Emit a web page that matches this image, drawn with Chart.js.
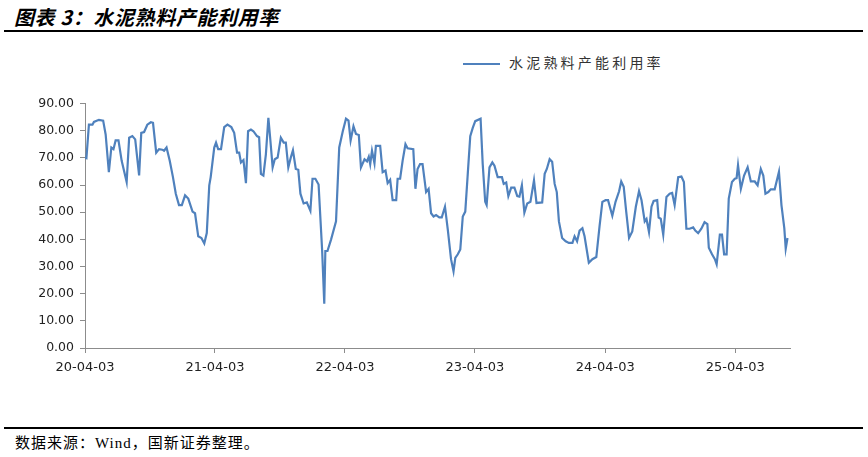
<!DOCTYPE html>
<html>
<head>
<meta charset="utf-8">
<script src="https://cdn.jsdelivr.net/npm/chart.js@4.4.1/dist/chart.umd.min.js"></script>
<style>
    html, body { margin: 0; padding: 0; background: #fff; }
    body { width: 868px; height: 457px; position: relative; overflow: hidden; }
    #title {
        position: absolute; left: 14px; top: 2px;
        font-family: "Noto Sans CJK SC", sans-serif; font-weight: bold; font-style: italic;
        font-size: 20px; color: #000; letter-spacing: 0.6px;
    }
    .rule { position: absolute; left: 4px; width: 859px; height: 2px; background: #000; }
    #legend {
        position: absolute; left: 463px; top: 52px;
        font-family: "Noto Sans CJK SC", sans-serif; font-size: 14px; color: #333;
        letter-spacing: 3.2px; white-space: nowrap;
    }
    #legend span {
        display: inline-block; width: 37px; height: 2px; background: #4f81bd;
        vertical-align: middle; margin-right: 9px;
    }
    #source {
        position: absolute; left: 15px; top: 431px;
        font-family: "Liberation Serif", "Noto Sans CJK SC", serif; font-size: 15px; color: #000;
        letter-spacing: 1px;
    }
    #wrap { position: absolute; left: 0; top: 90px; width: 800px; height: 300px; }
</style>
</head>
<body>
<div id="title">图表 3：水泥熟料产能利用率</div>
<div class="rule" style="top:30px"></div>
<div id="legend"><span></span>水泥熟料产能利用率</div>
<div id="wrap"><canvas id="chart"></canvas></div>
<div class="rule" style="top:427px"></div>
<div id="source">数据来源：Wind，国新证券整理。</div>

<script>
(function() {
    // days since 2020-04-03 at each turn of the line
    var dayOffsets = [0, 4, 11, 21, 25, 39, 51, 58, 67, 74, 80, 86, 94, 103, 117, 124, 133, 141, 152, 158,
        166, 175, 185, 191, 200, 208, 217, 222, 229, 238, 247, 255, 264, 272, 281, 290, 302, 309, 318, 327,
        335, 342, 349, 353, 363, 368, 374, 382, 391, 400, 411, 419, 427, 433, 438, 445, 452, 458, 466, 473,
        483, 489, 494, 501, 508, 515, 520, 527, 533, 541, 550, 558, 564, 571, 578, 584, 592, 599, 605, 614,
        623, 633, 639, 647, 656, 666, 672, 675, 681, 691, 705, 714, 724, 733, 740, 746, 754, 761, 769, 775,
        785, 792, 797, 801, 806, 813, 817, 829, 836, 844, 850, 857, 864, 874, 878, 885, 892, 900, 906, 922,
        928, 934, 941, 948, 958, 965, 972, 979, 986, 995, 1002, 1011, 1019, 1028, 1035, 1040, 1047, 1054, 1061, 1068,
        1075, 1082, 1089, 1096, 1111, 1117, 1124, 1128, 1136, 1144, 1150, 1159, 1171, 1176, 1183, 1189, 1197, 1206, 1214, 1220,
        1227, 1234, 1242, 1251, 1261, 1268, 1284, 1291, 1297, 1305, 1312, 1319, 1325, 1331, 1340, 1350, 1359, 1369, 1375, 1382,
        1389, 1397, 1403, 1415, 1425, 1436, 1445, 1453, 1462, 1469, 1481, 1490, 1500, 1506, 1513, 1520, 1528, 1537, 1547, 1556,
        1563, 1572, 1577, 1584, 1591, 1597, 1607, 1611, 1617, 1624, 1633, 1642, 1649, 1656, 1666, 1675, 1682, 1689, 1698, 1708,
        1714, 1722, 1731, 1740, 1748, 1752, 1761, 1769, 1774, 1783, 1789, 1795, 1802, 1808, 1817, 1825, 1830, 1834, 1842, 1851,
        1861, 1870, 1881, 1889, 1898, 1905, 1911, 1919, 1926, 1937, 1949, 1956, 1964, 1968, 1973];

    var utilization = [70.1, 69.9, 82.2, 82.2, 83.2, 84.0, 83.7, 78.6, 64.7, 73.8, 73.2, 76.4, 76.4, 68.9, 61.1, 77.4, 78.0, 76.8, 63.5, 79.2,
        79.5, 82.2, 83.1, 82.9, 71.9, 73.2, 73.0, 72.6, 73.8, 68.9, 62.9, 56.8, 52.6, 52.6, 56.2, 55.0, 50.2, 49.6, 41.1, 40.5,
        38.5, 42.3, 59.9, 62.9, 73.8, 75.6, 73.2, 73.2, 81.3, 82.2, 81.3, 79.2, 71.9, 71.9, 68.3, 69.2, 60.7, 79.8, 80.4, 79.8,
        78.0, 77.6, 64.1, 63.5, 71.3, 84.7, 77.4, 66.5, 69.5, 70.1, 77.4, 75.6, 75.6, 66.5, 70.1, 72.8, 65.9, 65.6, 56.8, 53.2,
        53.6, 50.5, 62.3, 62.3, 60.2, 36.0, 16.3, 35.7, 35.7, 39.9, 46.6, 73.8, 79.8, 84.4, 83.7, 76.4, 81.6, 78.8, 78.4, 66.5,
        69.5, 68.7, 70.4, 67.7, 72.6, 68.0, 74.4, 74.4, 64.7, 65.3, 60.7, 61.9, 54.4, 54.4, 62.3, 62.3, 68.9, 75.0, 73.5, 73.2,
        58.6, 65.9, 67.7, 67.7, 57.4, 58.6, 49.6, 48.4, 48.9, 48.1, 48.1, 52.0, 43.5, 32.7, 28.2, 33.2, 34.5, 36.3, 48.4, 50.2,
        64.1, 78.0, 81.0, 83.5, 84.4, 67.7, 53.8, 52.6, 66.5, 68.3, 67.1, 62.9, 62.9, 60.4, 60.9, 55.9, 59.0, 59.0, 55.9, 55.7,
        59.9, 49.8, 53.2, 53.8, 61.7, 53.4, 53.6, 64.1, 65.9, 69.5, 68.6, 60.4, 57.4, 46.6, 40.5, 39.3, 38.7, 38.7, 41.1, 39.3,
        43.2, 44.1, 41.1, 31.4, 32.7, 33.5, 44.7, 53.8, 54.4, 54.4, 48.7, 53.8, 57.7, 61.3, 59.3, 50.2, 40.5, 42.9, 52.0, 57.7,
        54.4, 46.6, 47.5, 42.7, 52.0, 54.1, 54.4, 48.0, 47.6, 41.7, 55.6, 56.8, 57.1, 52.6, 62.9, 63.1, 61.1, 43.9, 43.9, 44.4,
        43.2, 42.3, 43.9, 46.3, 45.6, 36.9, 34.5, 32.7, 30.8, 41.7, 41.7, 34.5, 34.5, 55.0, 61.1, 62.3, 62.5, 67.3, 58.6, 63.5,
        66.5, 61.3, 61.3, 59.9, 65.9, 63.5, 56.8, 57.4, 58.4, 58.4, 64.9, 52.6, 44.1, 36.6, 40.5];

    var yearTickDays = [0, 365, 730, 1095, 1461, 1826];
    var yearTickLabels = ['20-04-03', '21-04-03', '22-04-03', '23-04-03', '24-04-03', '25-04-03'];
    var lastDay = 1980;

    var axisColor = '#8c8c8c';

    var points = dayOffsets.map(function(d, i) {
        return { x: d, y: utilization[i] };
    });

    var ctx = document.getElementById('chart').getContext('2d');
    new Chart(ctx, {
        type: 'line',
        data: {
            datasets: [{
                label: '水泥熟料产能利用率',
                data: points,
                borderColor: '#4f81bd',
                borderWidth: 2.2,
                pointRadius: 0,
                tension: 0,
                fill: false
            }]
        },
        options: {
            responsive: true,
            maintainAspectRatio: false,
            animation: false,
            layout: { padding: { top: 10, right: 10, left: 0, bottom: 0 } },
            plugins: {
                legend: { display: false },
                tooltip: { enabled: false }
            },
            scales: {
                x: {
                    type: 'linear',
                    min: 0,
                    max: lastDay,
                    afterBuildTicks: function(scale) {
                        scale.ticks = yearTickDays.map(function(v) { return { value: v }; });
                    },
                    afterFit: function(scale) { scale.height = 42; },
                    ticks: {
                        autoSkip: false,
                        maxRotation: 0,
                        padding: 7,
                        color: '#222',
                        font: { family: 'DejaVu Sans', size: 13 },
                        callback: function(value) {
                            var i = yearTickDays.indexOf(value);
                            return i >= 0 ? yearTickLabels[i] : '';
                        }
                    },
                    grid: { drawOnChartArea: false, drawTicks: true, tickLength: 5, color: axisColor },
                    border: { display: true, color: axisColor, width: 1 }
                },
                y: {
                    min: 0,
                    max: 90,
                    afterFit: function(scale) { scale.width = 85; },
                    ticks: {
                        stepSize: 10,
                        padding: 6,
                        color: '#222',
                        font: { family: 'DejaVu Sans', size: 12.5 },
                        callback: function(value) { return value.toFixed(2); }
                    },
                    grid: { drawOnChartArea: false, drawTicks: true, tickLength: 5, color: axisColor },
                    border: { display: true, color: axisColor, width: 1 }
                }
            }
        }
    });
})();
</script>
</body>
</html>
